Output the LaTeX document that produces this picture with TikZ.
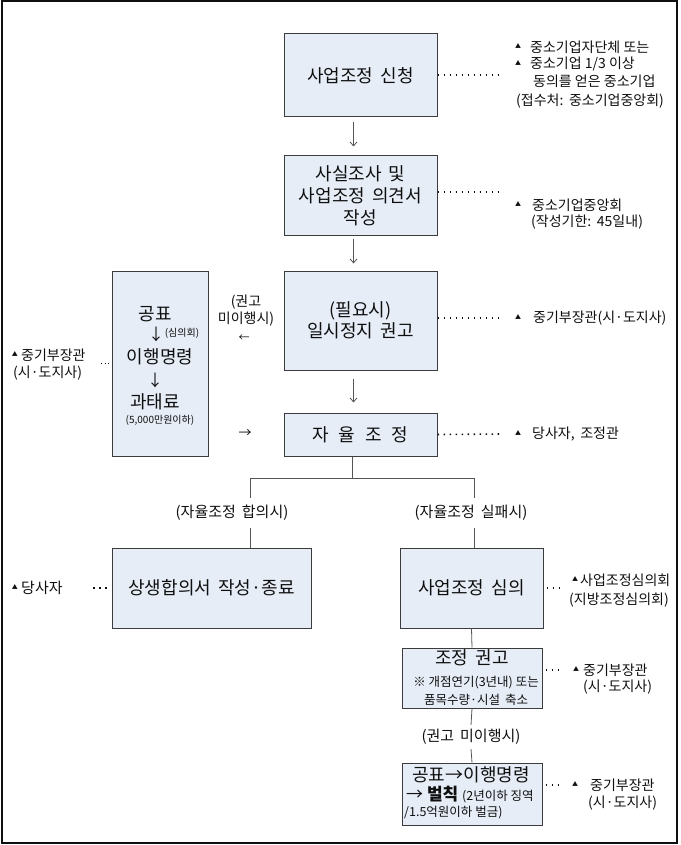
\documentclass[tikz,border=0pt]{standalone}
\usepackage{fontspec}
\setmainfont{Noto Sans CJK KR}
\usetikzlibrary{arrows.meta}
\definecolor{boxfill}{RGB}{230,237,247}
\definecolor{boxline}{RGB}{60,60,60}
\definecolor{connc}{RGB}{85,85,85}
\definecolor{txt}{RGB}{15,15,15}
\newcommand{\wsp}{\hspace{0.4em}}
\begin{document}
\begin{tikzpicture}[x=1pt,y=-1pt,
 box/.style={draw=boxline, fill=boxfill, line width=1pt, inner sep=0pt, align=center, text=txt},
 big/.style={font=\fontsize{18}{22}\selectfont},
 mid/.style={font=\fontsize{15}{17}\selectfont, text=txt, inner sep=0pt, align=center},
 small/.style={font=\fontsize{12.5}{17}\selectfont, text=txt, inner sep=0pt, align=center},
 ann/.style={font=\fontsize{14}{17}\selectfont, text=txt, inner sep=0pt, anchor=west},
 tri/.style={font=\fontsize{6}{6}\selectfont, text=txt, inner sep=0pt},
 dotl/.style={line width=1.6pt, dash pattern=on 1.6pt off 4.4pt, txt},
 cline/.style={draw=connc, line width=0.8pt},
 arr/.style={cline, -{Straight Barb[length=4pt,width=7pt]}},
]
\useasboundingbox (0,0) rectangle (680,845);
\draw[line width=1.2pt, txt] (2,1) rectangle (677,843);

% main column boxes
\node[box, big, minimum width=153pt, minimum height=83pt] (b1) at (360.5,75.5) {사업조정\wsp 신청};
\node[box, big, minimum width=153pt, minimum height=79pt] (b2) at (360.5,195.5) {사실조사\wsp 및\\사업조정\wsp 의견서\\작성};
\node[box, big, minimum width=153pt, minimum height=99pt, font=\fontsize{18}{21}\selectfont] (b3) at (360.5,320.5) {(필요시)\\일시정지\wsp 권고};
\node[box, big, minimum width=153pt, minimum height=43pt] (b4) at (360.5,434.5) {자\hspace{0.55em}율\hspace{0.55em}조\hspace{0.55em}정};

% left tall box
\node[box, minimum width=96pt, minimum height=185pt] (bP) at (160,363.5) {};
\node[big, inner sep=0pt, text=txt] (p1) at (155,314) {공표};
\node[inner sep=0pt, font=\fontsize{16}{16}\selectfont, text=txt] (p2) at (156,334) {↓};
\node[small, font=\fontsize{10}{10}\selectfont] (p2b) at (182,333) {(심의회)};
\node[big, inner sep=0pt, text=txt] (p3) at (160,357) {이행명령};
\node[inner sep=0pt, font=\fontsize{16}{16}\selectfont, text=txt] (p4) at (155,380) {↓};
\node[big, inner sep=0pt, text=txt] (p5) at (155,402) {과태료};
\node[small, font=\fontsize{10}{10}\selectfont] (p6) at (160,420) {(5,000만원이하)};

% lower boxes
\node[box, big, minimum width=199pt, minimum height=80pt] (bL) at (211.5,588) {상생합의서\wsp 작성·종료};
\node[box, big, minimum width=143pt, minimum height=80pt] (bR) at (471.5,588) {사업조정\wsp 심의};
\node[box, minimum width=140pt, minimum height=60pt] (b5) at (472,678) {};
\node[big, inner sep=0pt, text=txt] (b5t) at (472,658) {조정\wsp 권고};
\node[small] (b5a) at (476,683) {※ 개점연기(3년내) 또는};
\node[small] (b5b) at (476,700) {품목수량·시설\wsp 축소};
\node[box, minimum width=140pt, minimum height=62pt] (b6) at (472,794) {};
\node[big, inner sep=0pt, text=txt] (b6a) at (471,775) {공표→이행명령};
\node[inner sep=0pt, text=txt, anchor=west] (b6b) at (406,795) {\fontsize{17}{18}\selectfont → \textbf{벌칙} \fontsize{12.5}{14}\selectfont(2년이하 징역};
\node[small, anchor=west] (b6c) at (404,813) {/1.5억원이하 벌금)};

% arrows
\draw[arr, shorten <=5pt, shorten >=9pt] ([xshift=-7pt]b1.south) -- ([xshift=-7pt]b2.north);
\draw[arr, shorten <=3pt, shorten >=7pt] ([xshift=-7pt]b2.south) -- ([xshift=-7pt]b3.north);
\draw[arr, shorten <=8pt, shorten >=10pt] ([xshift=-7pt]b3.south) -- ([xshift=-7pt]b4.north);

% labels between left box and column
\node[mid, font=\fontsize{14}{17}\selectfont] (lA) at (246,311) {(권고\\미이행시)};
\node[inner sep=0pt, text=txt, font=\fontsize{11}{11}\selectfont] (lAa) at (244,338) {←};
\node[inner sep=0pt, text=txt, font=\fontsize{13}{13}\selectfont] (lB) at (245,434) {→};

% branching tree
\coordinate (jl) at (250,478);
\coordinate (jr) at (474,478);
\node[mid] (lblL) at (232,513) {(자율조정\wsp 합의시)};
\node[mid] (lblR) at (471,513) {(자율조정\wsp 실패시)};
\node[mid] (lblG) at (471,737) {(권고\wsp 미이행시)};
\draw[cline] ([xshift=-8.5pt]b4.south) -- ([xshift=-8.5pt]b4.south |- jl);
\draw[cline] (jl) -- (jr);
\draw[cline] (jl) -- ([yshift=-20pt]jl);
\draw[cline] (jr) -- ([yshift=-20pt]jr);
\draw[cline] ([yshift=-50pt]jl) -- (jl |- bL.north);
\draw[cline] ([yshift=-50pt]jr) -- (jr |- bR.north);
\draw[cline] (bR.south) -- (b5.north);
\draw[cline] (b5.south) -- ([yshift=4pt]lblG.north);
\draw[cline] ([yshift=-4pt]lblG.south) -- (b6.north);

% dotted connectors and annotations (right)
\coordinate (d1) at (503,75);
\draw[dotl] ([yshift=0.5pt]b1.east) -- (d1);
\node[tri] (t1a) at (518,46) {▲};
\node[ann] (a1a) at (530,47) {중소기업자단체 또는};
\node[tri] (t1b) at (518,63) {▲};
\node[ann] (a1b) at (530,64) {중소기업 1/3 이상};
\node[ann] (a1c) at (533,81) {동의를 얻은 중소기업};
\node[ann] (a1d) at (516,101) {(접수처:\wsp 중소기업중앙회)};

\coordinate (d2) at (503,192);
\draw[dotl] ([yshift=3.5pt]b2.east) -- (d2);
\node[tri] (t2) at (518,204) {▲};
\node[ann] (a2a) at (532,205) {중소기업중앙회};
\node[ann] (a2b) at (531,222) {(작성기한:\wsp 45일내)};

\coordinate (d3) at (503,318);
\draw[dotl] ([yshift=2.5pt]b3.east) -- (d3);
\node[tri] (t3) at (518,317) {▲};
\node[ann] (a3) at (533,318) {중기부장관(시·도지사)};

\coordinate (d4) at (503,434);
\draw[dotl] (b4.east) -- (d4);
\node[tri] (t4) at (518,433) {▲};
\node[ann] (a4) at (532,434) {당사자,\wsp 조정관};

% left annotations
\coordinate (dL1) at (101,363);
\draw[dotl, line width=1pt, dash pattern=on 1pt off 2.5pt] (dL1) -- ([yshift=0.5pt]bP.west);
\node[tri] (tL1) at (15,354) {▲};
\node[ann] (aL1a) at (21,355) {중기부장관};
\node[ann] (aL1b) at (13,373) {(시·도지사)};

\coordinate (dL2) at (93,588);
\draw[dotl, shorten >=3pt] (dL2) -- (bL.west);
\node[tri] (tL2) at (15,587) {▲};
\node[ann, font=\fontsize{15}{17}\selectfont] (aL2) at (21,588) {당사자};

% right lower annotations
\coordinate (dR) at (560,588);
\draw[dotl, shorten <=3pt] (bR.east) -- (dR);
\node[tri] (tR) at (575,579) {▲};
\node[ann] (aRa) at (580,580) {사업조정심의회};
\node[ann] (aRb) at (569,600) {(지방조정심의회)};

\coordinate (d5) at (560,670);
\draw[dotl, shorten <=3pt] ([yshift=8pt]b5.east) -- (d5);
\node[tri] (t5) at (576,669) {▲};
\node[ann] (a5a) at (583,670) {중기부장관};
\node[ann] (a5b) at (583,687) {(시·도지사)};

\coordinate (d6) at (560,785);
\draw[dotl, shorten <=3pt] ([yshift=9pt]b6.east) -- (d6);
\node[tri] (t6) at (575,784) {▲};
\node[ann] (a6a) at (590,785) {중기부장관};
\node[ann] (a6b) at (588,803) {(시·도지사)};
\end{tikzpicture}
\end{document}
